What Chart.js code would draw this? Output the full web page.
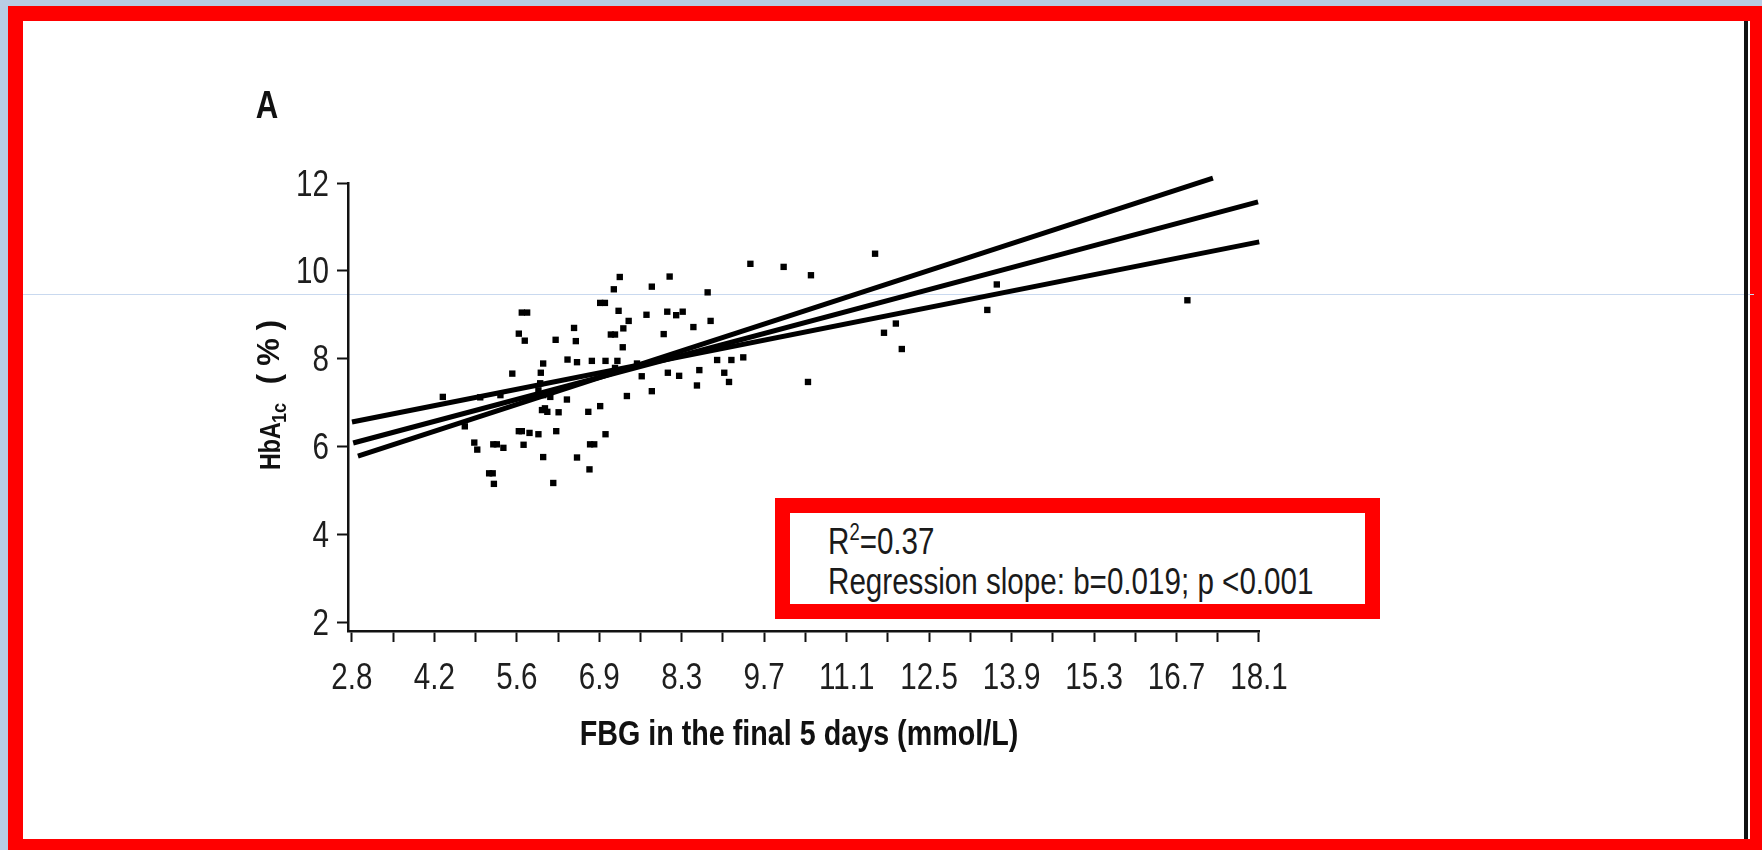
<!DOCTYPE html>
<html>
<head>
<meta charset="utf-8">
<script src="https://cdn.jsdelivr.net/npm/chart.js@4.4.1/dist/chart.umd.min.js"></script>
<style>
  html, body { margin: 0; padding: 0; width: 1762px; height: 850px; overflow: hidden; background: #b8cce4; }
  #frame { position: absolute; left: 8px; top: 6px; width: 1757px; height: 848px; box-sizing: border-box;
           border: 15px solid #ff0000; background: #ffffff; }
  #chart { position: absolute; left: 0; top: 0; }
  #note { position: absolute; left: 775px; top: 498px; width: 605px; height: 121px; box-sizing: border-box;
          border: 15px solid #ff0000; background: #ffffff; padding: 9px 0 0 38px;
          font-family: "Liberation Sans", Arial, sans-serif;
          font-size: 37px; line-height: 40px; color: #1a1a1a; white-space: nowrap; }
  #note span { display: inline-block; transform: scaleX(0.8); transform-origin: 0 0; }
  #note sup { font-size: 23px; line-height: 0; vertical-align: 14px; }
</style>
</head>
<body>
<div id="frame"></div>
<canvas id="chart" width="1762" height="850"></canvas>
<div id="note"><span>R<sup>2</sup>=0.37<br>Regression slope: b=0.019; p &lt;0.001</span></div>
<script>
// FBG (mmol/L) and HbA1c (%)
var fbgValues = [9.49, 10.05, 10.51, 11.59, 7.29, 8.13, 7.19, 7.83, 8.77, 6.96,
                 7.04, 5.64, 5.73, 7.27, 7.74, 8.09, 8.24, 8.35, 7.44, 8.82,
                 8.53, 5.59, 5.69, 6.21, 6.52, 6.55, 7.21, 7.14, 7.35, 8.03,
                 7.34, 6.00, 6.41, 6.57, 6.82, 7.05, 7.25, 5.48, 5.96, 4.31,
                 4.94, 5.28, 5.92, 6.00, 6.12, 6.03, 5.98, 6.07, 5.95, 6.40,
                 6.26, 6.76, 6.96, 7.41, 7.83, 7.66, 8.10, 8.29, 8.63, 8.59,
                 8.93, 9.17, 9.37, 9.05, 9.13, 4.68, 4.84, 4.89, 5.16, 5.22,
                 5.33, 5.59, 5.64, 5.77, 5.92, 6.22, 5.67, 6.00, 6.57, 6.79,
                 6.86, 7.05, 5.09, 5.15, 5.17, 6.17, 6.78, 7.21, 7.58, 13.64,
                 13.48, 11.94, 11.74, 12.04, 10.46, 16.85];
var hba1cValues = [10.16, 10.09, 9.90, 10.39, 9.86, 9.87, 9.58, 9.64, 9.51, 9.27,
                   9.27, 9.05, 9.05, 9.09, 9.00, 9.07, 8.99, 9.07, 8.86, 8.86,
                   8.72, 8.57, 8.41, 8.43, 8.70, 8.40, 8.55, 8.55, 8.69, 8.56,
                   8.26, 7.89, 7.98, 7.92, 7.95, 7.95, 7.95, 7.66, 7.68, 7.13,
                   7.12, 7.17, 7.28, 7.17, 7.13, 6.87, 6.83, 6.79, 7.44, 7.07,
                   6.78, 6.79, 6.92, 7.15, 7.26, 7.60, 7.68, 7.61, 7.74, 7.39,
                   7.97, 7.97, 8.03, 7.68, 7.47, 6.46, 6.09, 5.93, 6.05, 6.05,
                   5.97, 6.35, 6.35, 6.31, 6.28, 6.35, 6.04, 5.76, 5.75, 6.05,
                   6.05, 6.28, 5.39, 5.39, 5.15, 5.17, 5.48, 7.79, 7.89, 9.69,
                   9.11, 8.80, 8.59, 8.22, 7.47, 9.33];

// regression line and the two outer lines (end points)
var fitX = [2.80, 18.04], fitY = [6.08, 11.57];
var steepX = [2.88, 17.28], steepY = [5.78, 12.11];
var flatX = [2.78, 18.06], flatY = [6.56, 10.66];

var xTickLabels = ['2.8', '4.2', '5.6', '6.9', '8.3', '9.7', '11.1', '12.5', '13.9', '15.3', '16.7', '18.1'];
var yTickValues = [2, 4, 6, 8, 10, 12];

var fontReg = '37px "Liberation Sans", Arial, sans-serif';
var fontBold = 'bold 35px "Liberation Sans", Arial, sans-serif';

function pairs(xs, ys) {
	var out = [];
	for (var i = 0; i < xs.length; i++) out.push({x: xs[i], y: ys[i]});
	return out;
}

function lineSet(xs, ys) {
	return {
		type: 'line',
		data: pairs(xs, ys),
		borderColor: '#000',
		borderWidth: 5,
		pointRadius: 0,
		fill: false,
		clip: false
	};
}

// labels sit every 25 mg/dL, minor ticks in between
var xStep = 25 / 18;
var xFirst = 50 / 18;

// the scan uses a condensed face; squeeze Liberation Sans to match
function narrowText(ctx, text, x, y, font, sx, align) {
	ctx.save();
	ctx.translate(x, y);
	ctx.scale(sx, 1);
	ctx.font = font;
	ctx.textAlign = align;
	ctx.textBaseline = 'alphabetic';
	ctx.fillText(text, 0, 0);
	ctx.restore();
}

var decor = {
	id: 'decor',
	beforeDraw: function(chart) {
		var ctx = chart.ctx;
		ctx.save();
		// scan artefacts: faint blue rule and the dark edge on the right
		ctx.fillStyle = '#c9d9ef';
		ctx.fillRect(23, 294, 1731, 1);
		ctx.fillStyle = '#111';
		ctx.fillRect(1744, 21, 4, 818);
		ctx.restore();
	},
	afterDraw: function(chart) {
		var ctx = chart.ctx;
		var xs = chart.scales.x, ys = chart.scales.y;
		ctx.save();
		ctx.fillStyle = '#1e1e1e';
		for (var i = 0; i < xTickLabels.length; i++) {
			narrowText(ctx, xTickLabels[i], xs.getPixelForValue(xFirst + i * xStep), 689, fontReg, 0.8, 'center');
		}
		yTickValues.forEach(function(v) {
			narrowText(ctx, String(v), 329, ys.getPixelForValue(v) + 12.5, fontReg, 0.8, 'right');
		});

		ctx.fillStyle = '#111';
		narrowText(ctx, 'FBG in the final 5 days (mmol/L)', 799, 745, fontBold, 0.82, 'center');
		narrowText(ctx, 'A', 267, 118, 'bold 38px "Liberation Sans", Arial, sans-serif', 0.82, 'center');

		// y title, rotated, with subscript
		ctx.translate(269, 390);
		ctx.rotate(-Math.PI / 2);
		var big = 'bold 29px "Liberation Sans", Arial, sans-serif';
		var paren = 'bold 31px "Liberation Sans", Arial, sans-serif';
		var small = 'bold 20px "Liberation Sans", Arial, sans-serif';
		narrowText(ctx, 'HbA', -80, 11, big, 0.8, 'left');
		narrowText(ctx, '1c', -33, 17, small, 0.9, 'left');
		narrowText(ctx, '(', 11, 10, paren, 1, 'center');
		narrowText(ctx, '%', 38, 10, paren, 1, 'center');
		narrowText(ctx, ')', 65, 10, paren, 1, 'center');
		ctx.restore();
	}
};

new Chart(document.getElementById('chart'), {
	type: 'scatter',
	data: {
		datasets: [
			{
				data: pairs(fbgValues, hba1cValues),
				pointStyle: 'rect',
				pointRadius: 4.5,
				backgroundColor: '#000',
				borderWidth: 0
			},
			lineSet(steepX, steepY),
			lineSet(fitX, fitY),
			lineSet(flatX, flatY)
		]
	},
	options: {
		responsive: false,
		animation: false,
		events: [],
		layout: { padding: { left: 248, right: 503, top: 183, bottom: 79 } },
		plugins: { legend: { display: false }, tooltip: { enabled: false } },
		scales: {
			x: {
				type: 'linear',
				min: 2.713,
				max: 18.056,
				afterBuildTicks: function(scale) {
					var t = [];
					for (var i = 0; i < xTickLabels.length * 2 - 1; i++) t.push({value: xFirst + i * xStep / 2});
					scale.ticks = t;
				},
				afterFit: function(scale) { scale.height = 140; },
				border: { color: '#111', width: 2.5 },
				grid: { drawOnChartArea: false, drawTicks: true, tickLength: 11, tickColor: '#111', tickWidth: 2 },
				ticks: { display: false }
			},
			y: {
				type: 'linear',
				min: 1.8,
				max: 12,
				afterBuildTicks: function(scale) {
					scale.ticks = yTickValues.map(function(v) { return {value: v}; });
				},
				afterFit: function(scale) { scale.width = 100; },
				border: { color: '#111', width: 2.5 },
				grid: { drawOnChartArea: false, drawTicks: true, tickLength: 11, tickColor: '#111', tickWidth: 2 },
				ticks: { display: false }
			}
		}
	},
	plugins: [decor]
});
</script>
</body>
</html>
